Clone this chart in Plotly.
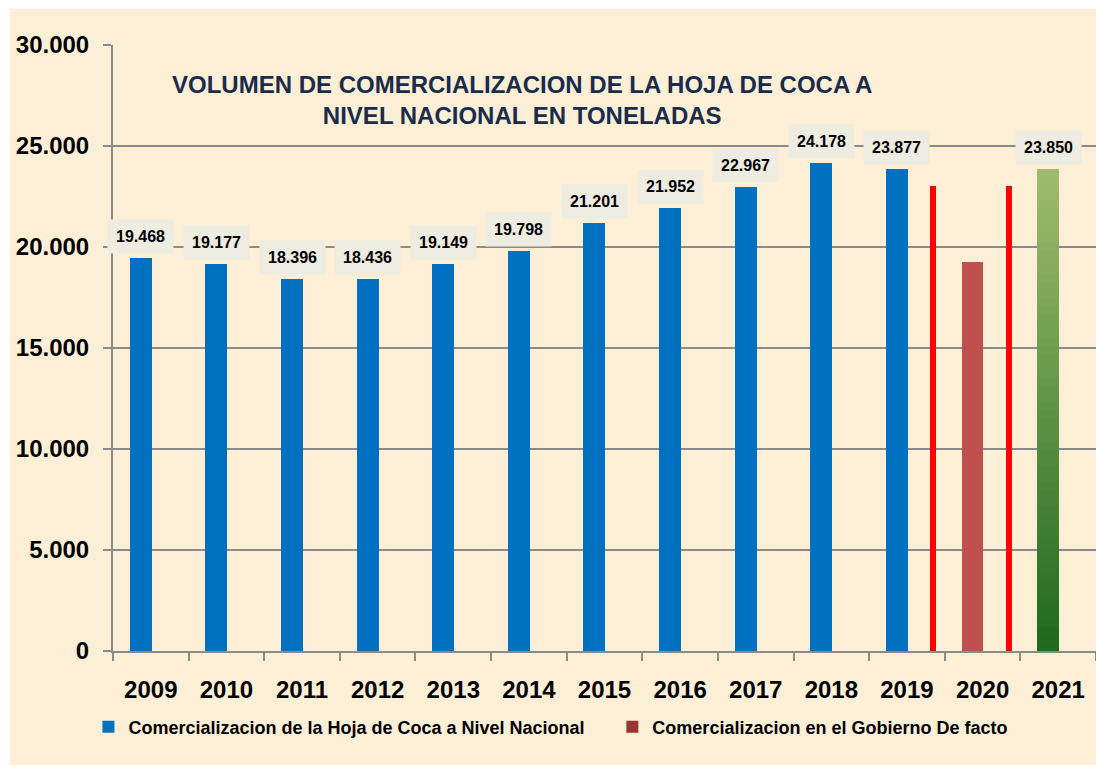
import plotly.graph_objects as go

# Volume of coca leaf traded nationally (tonnes)
years = ["2009", "2010", "2011", "2012", "2013", "2014", "2015",
         "2016", "2017", "2018", "2019", "2020", "2021"]
nacional_years = ["2009", "2010", "2011", "2012", "2013", "2014",
                  "2015", "2016", "2017", "2018", "2019"]
nacional_values = [19468, 19177, 18396, 18436, 19149, 19798,
                   21201, 21952, 22967, 24178, 23877]
facto_years = ["2020"]
facto_values = [19270]
recent_years = ["2021"]
recent_values = [23850]
separator_years = ["2019", "2020"]
separator_values = [23000, 23000]
y_ticks = [0, 5000, 10000, 15000, 20000, 25000, 30000]
y_tick_labels = ["0", "5.000", "10.000", "15.000", "20.000", "25.000", "30.000"]

BAR_OFFSET = -0.278
BAR_WIDTH = 0.29
BG = "#FCEFD6"
GRID = "#8A8A8A"
FONT = "Liberation Sans"


def fmt(v):
    return f"{v:,}".replace(",", ".")


def mix(c1, c2, t):
    a = [int(c1[i:i + 2], 16) for i in (1, 3, 5)]
    b = [int(c2[i:i + 2], 16) for i in (1, 3, 5)]
    return "#" + "".join(f"{round(a[k] + (b[k] - a[k]) * t):02X}" for k in range(3))


fig = go.Figure()

fig.add_trace(go.Bar(
    x=nacional_years, y=nacional_values,
    name="Comercializacion de la Hoja de Coca a Nivel Nacional",
    marker=dict(color="#0070C0", line=dict(width=0)),
    offset=BAR_OFFSET, width=BAR_WIDTH, legend="legend",
))

fig.add_trace(go.Bar(
    x=facto_years, y=facto_values,
    name="Comercializacion en el Gobierno De facto",
    marker=dict(color="#C0504D", line=dict(width=0)),
    offset=BAR_OFFSET, width=BAR_WIDTH, showlegend=False,
))
# legend swatch for the de facto series
fig.add_trace(go.Bar(
    x=facto_years, y=[None],
    name="Comercializacion en el Gobierno De facto",
    marker=dict(color="#953735", line=dict(width=0)),
    offset=BAR_OFFSET, width=BAR_WIDTH, legend="legend2",
))

# 2021 bar with a vertical green gradient, built from stacked slices
N = 60
for yr, val in zip(recent_years, recent_values):
    step = val / N
    for i in range(N):
        t = (i + 0.5) / N
        fig.add_trace(go.Bar(
            x=[yr], y=[step], base=[i * step],
            marker=dict(color=mix("#1E691C", "#9FBC6F", t), line=dict(width=0)),
            offset=BAR_OFFSET, width=BAR_WIDTH, showlegend=False,
            hoverinfo="skip",
        ))

# thin red separators around the 2020 period
fig.add_trace(go.Bar(
    x=separator_years, y=separator_values,
    marker=dict(color="#FF0000", line=dict(width=0)),
    offset=0.31, width=0.08, showlegend=False, hoverinfo="skip",
))

# value labels in light boxes above the bars (positioned by category index)
for xs, vs in ((nacional_years, nacional_values), (recent_years, recent_values)):
    for x, v in zip(xs, vs):
        fig.add_annotation(
            x=years.index(x), y=v, xref="x", yref="y", text=fmt(v),
            showarrow=False, xshift=-10, yshift=4, yanchor="bottom",
            font=dict(family=FONT, size=16, color="#000000", weight="bold"),
            bgcolor="#EEEBE0", borderpad=8,
        )

fig.add_annotation(
    x=0.416, y=0.909, xref="paper", yref="paper",
    text="VOLUMEN DE COMERCIALIZACION DE LA HOJA DE COCA A<br>NIVEL NACIONAL EN TONELADAS",
    showarrow=False, xanchor="center", yanchor="middle",
    font=dict(family=FONT, size=24, color="#1B2B4B", weight="bold"),
)

# parchment panel
fig.add_shape(type="rect", xref="paper", yref="paper",
              x0=-0.105, x1=1.01, y0=-0.2, y1=1.06,
              fillcolor=BG, line=dict(width=0), layer="below")

legend_style = dict(
    orientation="h", y=-0.095, xanchor="left", yanchor="top",
    font=dict(family=FONT, size=18, color="#000000", weight="bold"),
    bgcolor="rgba(0,0,0,0)", itemwidth=30,
)

fig.update_layout(
    width=1096, height=765,
    margin=dict(l=113, r=0, t=45, b=114),
    paper_bgcolor="#FFFFFF", plot_bgcolor="rgba(0,0,0,0)",
    barmode="overlay", bargap=0,
    font=dict(family=FONT, color="#000000"),
    showlegend=True,
    legend=dict(x=-0.025, **legend_style),
    legend2=dict(x=0.508, **legend_style),
    xaxis=dict(
        type="category", categoryorder="array", categoryarray=years,
        range=[-0.5, 12.5],
        showline=True, linecolor=GRID, linewidth=2,
        ticks="outside", tickson="boundaries", ticklen=8, tickcolor=GRID,
        tickwidth=2,
        tickfont=dict(family=FONT, size=24, color="#000000", weight="bold"),
        ticklabelstandoff=16,
        showgrid=False, zeroline=False,
    ),
    yaxis=dict(
        range=[0, 30000], tickvals=y_ticks, ticktext=y_tick_labels,
        showline=True, linecolor=GRID, linewidth=2,
        ticks="outside", ticklen=8, tickcolor=GRID, tickwidth=2,
        tickfont=dict(family=FONT, size=24, color="#000000", weight="bold"),
        ticklabelstandoff=9,
        showgrid=True, gridcolor=GRID, gridwidth=2, zeroline=False,
    ),
)

fig.write_html("out.html")
